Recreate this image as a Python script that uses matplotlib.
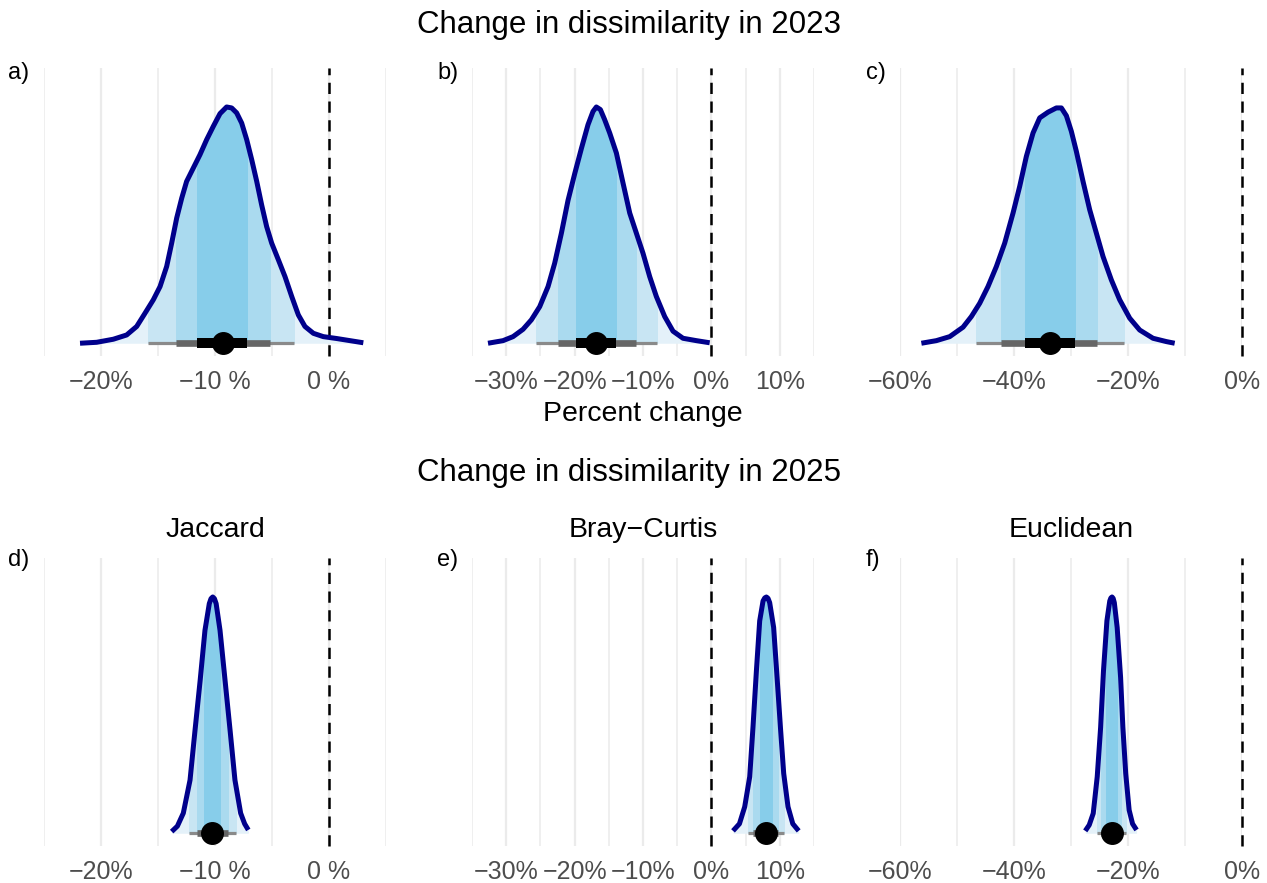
import matplotlib.pyplot as plt
from matplotlib.patches import Rectangle

plt.rcParams['font.family'] = ['Liberation Sans', 'DejaVu Sans']

# posterior density outlines (percent change, relative height)
x_a = [-21.84, -20.38, -18.92, -17.75, -16.87, -16.14, -15.41, -14.82, -14.24, -13.80,
       -13.36, -12.92, -12.49, -11.90, -11.32, -10.73, -10.15, -9.56, -8.98, -8.54, -8.10,
       -7.66, -7.22, -6.78, -6.34, -5.91, -5.47, -5.03, -4.44, -3.86, -3.27, -2.69, -2.11,
       -1.37, -0.50, 0.67, 1.84, 3.01]
dens_a = [0.0, 0.004, 0.017, 0.035, 0.071, 0.127, 0.184, 0.24, 0.325, 0.424,
          0.53, 0.614, 0.685, 0.742, 0.798, 0.862, 0.918, 0.972, 1.0, 0.996, 0.975,
          0.932, 0.862, 0.777, 0.685, 0.586, 0.494, 0.424, 0.353, 0.282, 0.198, 0.12, 0.071,
          0.042, 0.028, 0.02, 0.011, 0.002]

x_b = [-32.66, -30.46, -29.0, -27.54, -26.32, -25.1, -23.88, -22.91, -21.93, -20.96, -19.98,
       -19.01, -18.04, -17.31, -16.82, -16.23, -15.6, -14.87, -13.89, -12.92, -11.94, -10.97,
       -10.0, -9.02, -8.05, -6.83, -5.61, -4.15, -2.2, -0.25]
dens_b = [0.0, 0.011, 0.028, 0.059, 0.099, 0.155, 0.24, 0.339, 0.466, 0.605, 0.718,
          0.824, 0.925, 0.981, 1.0, 0.989, 0.946, 0.89, 0.805, 0.678, 0.551, 0.466,
          0.381, 0.282, 0.198, 0.113, 0.051, 0.021, 0.011, 0.002]

x_c = [-56.25, -53.62, -51.28, -48.94, -47.48, -46.02, -44.56, -43.09, -41.63, -40.17, -39.0,
       -37.83, -36.66, -35.49, -34.03, -32.57, -31.69, -30.81, -29.94, -29.06, -27.89, -26.72,
       -25.55, -24.38, -22.92, -21.46, -19.70, -17.95, -15.61, -13.27, -11.81]
dens_c = [0.0, 0.011, 0.028, 0.068, 0.113, 0.169, 0.24, 0.325, 0.424, 0.551, 0.664,
          0.791, 0.89, 0.954, 0.978, 0.996, 0.996, 0.963, 0.897, 0.812, 0.685, 0.565,
          0.466, 0.367, 0.268, 0.184, 0.106, 0.056, 0.021, 0.007, 0.0]

x_d = [-13.8, -13.3, -12.78, -12.19, -11.75, -11.3, -10.88, -10.5, -10.35, -10.2, -10.05,
       -9.9, -9.56, -9.12, -8.68, -8.25, -7.75, -7.4, -7.08]
dens_d = [0.007, 0.03, 0.085, 0.225, 0.437, 0.648, 0.859, 0.972, 0.993, 1.0, 0.993,
          0.972, 0.859, 0.648, 0.437, 0.225, 0.085, 0.04, 0.014]

x_e = [3.16, 4.1, 4.87, 5.6, 6.08, 6.58, 7.06, 7.55, 7.8, 8.04, 8.28, 8.52, 9.1, 9.6, 10.09,
       10.57, 11.2, 11.9, 12.76]
dens_e = [0.01, 0.04, 0.112, 0.239, 0.449, 0.688, 0.899, 0.983, 0.996, 1.0, 0.994, 0.976,
          0.871, 0.66, 0.449, 0.253, 0.112, 0.04, 0.01]

x_f = [-27.5, -26.8, -26.1, -25.4, -24.8, -24.3, -23.7, -23.2, -23.0, -22.8, -22.6, -22.4,
       -21.9, -21.3, -20.9, -20.4, -19.8, -19.2, -18.5]
dens_f = [0.01, 0.035, 0.084, 0.239, 0.449, 0.688, 0.899, 0.983, 0.996, 1.0, 0.994, 0.976,
          0.871, 0.66, 0.449, 0.253, 0.098, 0.04, 0.014]

# point summaries and intervals (a..f)
medians = [-9.3, -16.8, -33.6, -10.3, 8.0, -22.8]
ci95 = [(-15.9, -3.1), (-25.7, -7.95), (-46.6, -20.75), (-12.3, -8.2), (5.4, 10.6), (-25.4, -20.3)]
ci80 = [(-13.4, -5.2), (-22.4, -11.07), (-42.2, -25.4), (-11.6, -8.9), (6.1, 9.7), (-24.7, -21.2)]
ci50 = [(-11.6, -7.2), (-19.8, -13.9), (-38.0, -29.35), (-11.0, -9.6), (7.1, 8.9), (-23.8, -21.9)]

# axis setup per metric column
xlims = [(-25, 5), (-35, 15), (-60, 0)]
major_ticks = [[-20, -10, 0], [-30, -20, -10, 0, 10], [-60, -40, -20, 0]]
minor_ticks = [[-25, -15, -5, 5], [-35, -25, -15, -5, 5, 15], [-50, -30, -10]]
tick_labels = [['−20%', '−10 %', '0 %'],
               ['−30%', '−20%', '−10%', '0%', '10%'],
               ['−60%', '−40%', '−20%', '0%']]
metrics = ['Jaccard', 'Bray−Curtis', 'Euclidean']
panel_tags = ['a)', 'b)', 'c)', 'd)', 'e)', 'f)']

xs = [x_a, x_b, x_c, x_d, x_e, x_f]
dens = [dens_a, dens_b, dens_c, dens_d, dens_e, dens_f]

W, H = 1267, 883
fig = plt.figure(figsize=(W / 100, H / 100), dpi=100)

col_left = [44, 472, 900]
row_top = [68, 558]
ax_w, ax_h = 342, 288

fill_tail = '#E4F1F9'
fill_95 = '#C8E5F3'
fill_80 = '#AADAEF'
fill_50 = '#87CDEA'

for i in range(6):
    r, c = divmod(i, 3)
    left = col_left[c] / W
    bottom = 1 - (row_top[r] + ax_h) / H
    ax = fig.add_axes([left, bottom, ax_w / W, ax_h / H])

    x, d = xs[i], dens[i]

    # slab, coloured by interval
    bands = [(None, fill_tail), (ci95[i], fill_95), (ci80[i], fill_80), (ci50[i], fill_50)]
    for rng, color in bands:
        poly = ax.fill_between(x, 0, d, color=color, lw=0, zorder=2)
        if rng is not None:
            clip = Rectangle((rng[0], -1), rng[1] - rng[0], 3, transform=ax.transData)
            poly.set_clip_path(clip)
    ax.plot(x, d, color='#00008B', lw=3.6, solid_capstyle='butt', solid_joinstyle='round', zorder=4)

    ax.axvline(0, color='black', lw=1.8, linestyle=(0, (4.5, 3)), zorder=3, clip_on=False)

    # interval + point
    ax.plot(ci95[i], [0, 0], color='#8A8A8A', lw=2.3, solid_capstyle='butt', zorder=5)
    ax.plot(ci80[i], [0, 0], color='#666666', lw=4.8, solid_capstyle='butt', zorder=5)
    ax.plot(ci50[i], [0, 0], color='black', lw=7.2, solid_capstyle='butt', zorder=5)
    ax.plot([medians[i]], [0], 'o', color='black', ms=15.5, zorder=6)

    ax.set_xlim(*xlims[c])
    ax.set_ylim(-0.054, 1.165)
    ax.set_xticks(major_ticks[c])
    ax.set_xticklabels(tick_labels[c])
    ax.set_xticks(minor_ticks[c], minor=True)
    ax.set_yticks([])
    ax.tick_params(axis='x', which='both', length=0, pad=10, labelsize=18, labelcolor='#4D4D4D')
    ax.grid(which='major', axis='x', color='#EBEBEB', lw=1.6, zorder=0)
    ax.grid(which='minor', axis='x', color='#EBEBEB', lw=1.1, zorder=0)
    ax.set_axisbelow(True)
    for s in ax.spines.values():
        s.set_visible(False)

    tag_x = [8, 437, 866][c]
    tag_y = [79, 566][r]
    fig.text(tag_x / W, 1 - tag_y / H, panel_tags[i], fontsize=17, va='baseline', ha='left')

    if r == 1:
        cx = (col_left[c] + ax_w / 2) / W
        fig.text(cx, 1 - 537 / H, metrics[c], fontsize=20.5, ha='center', va='baseline')

fig.text(629 / W, 1 - 33 / H, 'Change in dissimilarity in 2023', fontsize=22.5, ha='center', va='baseline')
fig.text(629 / W, 1 - 481 / H, 'Change in dissimilarity in 2025', fontsize=22.5, ha='center', va='baseline')
fig.text((472 + ax_w / 2) / W, 1 - 421 / H, 'Percent change', fontsize=20.5, ha='center', va='baseline')

fig.savefig('out.png', dpi=100)
